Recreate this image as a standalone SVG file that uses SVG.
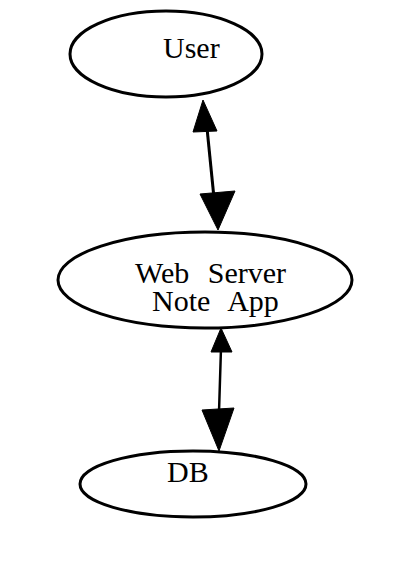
<svg xmlns="http://www.w3.org/2000/svg" width="411" height="562" viewBox="0 0 411 562">
<style>
.node ellipse{fill:#fff;stroke:#000;stroke-width:3}
.node text{font-family:"Liberation Serif","Times New Roman",serif;font-size:30px;fill:#000;word-spacing:11px}
.edge line{stroke:#000;stroke-width:3}
.edge polygon{fill:#000;stroke:#000;stroke-width:1}
</style>
<rect width="411" height="562" fill="#fff"/>
<g id="connectors" class="edge">
<line x1="207" y1="128" x2="214" y2="198"/>
<polygon points="203,100 193,132 217,131"/>
<polygon points="218,230 200,194 235,191"/>
<line x1="221" y1="348" x2="219" y2="412" style="stroke-width:2.5"/>
<polygon points="221,328 211,352 232,352"/>
<polygon points="219,451 202,410 234,408"/>
</g>
<g id="user" class="node">
<ellipse cx="166" cy="54" rx="96" ry="43"/>
<text x="163" y="58">User</text>
</g>
<g id="webserver" class="node">
<ellipse cx="205" cy="280" rx="147" ry="48"/>
<text x="135" y="283">Web Server<tspan x="152" y="311">Note App</tspan></text>
</g>
<g id="db" class="node">
<ellipse cx="193" cy="484" rx="113" ry="33"/>
<text x="167" y="482">DB</text>
</g>
</svg>
